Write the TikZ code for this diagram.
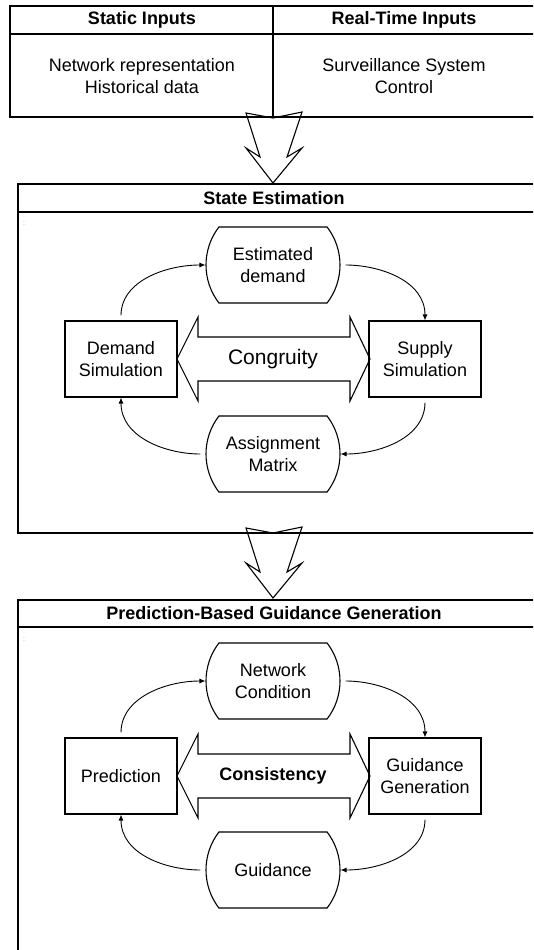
\documentclass[tikz,border=0pt]{standalone}
\usepackage{fontspec}
\setmainfont{Liberation Sans}
\usetikzlibrary{positioning, shapes.misc, arrows.meta}
\tikzstyle{flowChart} = [x = 1pt, y = -1pt]
\tikzstyle{panelLine} = [color=black, line width=1.1pt]
\tikzstyle{headText} = [font=\fontsize{18}{22}\selectfont\bfseries, inner sep=0pt]
\tikzstyle{bodyText} = [font=\fontsize{18}{22}\selectfont, align=center]
\tikzstyle{modelBox} = [bodyText, draw, line width=1.1pt, minimum width=112pt, minimum height=76pt, inner sep=2pt]
\tikzstyle{dataBox} = [bodyText, draw, line width=1.1pt, rounded rectangle, rounded rectangle arc length=75, minimum width=138pt, minimum height=76pt, inner sep=2pt]
\tikzstyle{blockLine} = [draw=black, line width=1.1pt, line join=miter]
\tikzstyle{loopLine} = [draw=black, line width=0.9pt, -{Latex[length=6pt, width=5pt]}, shorten <=5pt]
\tikzstyle{cornerMark} = [font=\fontsize{7}{7}\selectfont, text=black!35, inner sep=0pt]
\newcommand{\panelFrame}[3]{\draw[panelLine] (18,#1) rectangle (540,#3); \draw[panelLine] (18,#2) -- (540,#2);}
\newcommand{\downBlock}[1]{\draw[blockLine] (246,#1) -- (273,#1+5) -- (302,#1-1) -- (287,#1+44) -- (302,#1+35) -- (273,#1+70) -- (246,#1+35) -- (260,#1+44) -- cycle;}
\newcommand{\sideBlock}[1]{\draw[blockLine] (198,#1-22) -- (350,#1-22) -- (350,#1-42) -- (370,#1) -- (350,#1+42) -- (350,#1+22) -- (198,#1+22) -- (198,#1+42) -- (177,#1) -- (198,#1-42) -- cycle;}

\begin{document}
\begin{tikzpicture}[flowChart]
  \useasboundingbox (0,0) rectangle (533,950);
  \clip (0,0) rectangle (533,950);

  % inputs
  \draw[panelLine] (10,6) rectangle (540,117);
  \draw[panelLine] (10,34) -- (540,34);
  \draw[panelLine] (273,6) -- (273,117);
  \node[headText] (staticHead) at (142,20) {Static Inputs};
  \node[headText] (realHead) at (404,20) {Real-Time Inputs};
  \node[bodyText] (staticBody) at (142,76) {Network representation\\Historical data};
  \node[bodyText] (realBody) at (404,76) {Surveillance System\\Control};
  \downBlock{113}

  % state estimation
  \panelFrame{184}{212}{533}
  \node[headText] (stateHead) at (274,198) {State Estimation};
  \node[cornerMark] (stateMark) at (24,224) {:};
  \node[dataBox] (estDemand) at (273,265) {Estimated\\demand};
  \node[modelBox] (demandSim) at (121,359) {Demand\\Simulation};
  \node[modelBox] (supplySim) at (425,359) {Supply\\Simulation};
  \node[dataBox] (assignMatrix) at (273,454) {Assignment\\Matrix};
  \sideBlock{359}
  \node[font=\fontsize{21}{24}\selectfont] (congruity) at (273,359) {Congruity};
  \draw[loopLine] (demandSim.north) to[out=90, in=180] (estDemand.west);
  \draw[loopLine] (estDemand.east) to[out=0, in=90] (supplySim.north);
  \draw[loopLine] (supplySim.south) to[out=-90, in=0] (assignMatrix.east);
  \draw[loopLine] (assignMatrix.west) to[out=180, in=-90] (demandSim.south);
  \downBlock{528}

  % guidance generation
  \panelFrame{600}{627}{960}
  \node[headText] (guideHead) at (274,613) {Prediction-Based Guidance Generation};
  \node[cornerMark] (guideMark) at (24,640) {:};
  \node[dataBox] (netCondition) at (273,681) {Network\\Condition};
  \node[modelBox] (prediction) at (121,776) {Prediction};
  \node[modelBox] (guideGen) at (425,776) {Guidance\\Generation};
  \node[dataBox] (guidance) at (273,870) {Guidance};
  \sideBlock{776}
  \node[headText] (consistency) at (273,776) {Consistency};
  \draw[loopLine] (prediction.north) to[out=90, in=180] (netCondition.west);
  \draw[loopLine] (netCondition.east) to[out=0, in=90] (guideGen.north);
  \draw[loopLine] (guideGen.south) to[out=-90, in=0] (guidance.east);
  \draw[loopLine] (guidance.west) to[out=180, in=-90] (prediction.south);
\end{tikzpicture}
\end{document}
